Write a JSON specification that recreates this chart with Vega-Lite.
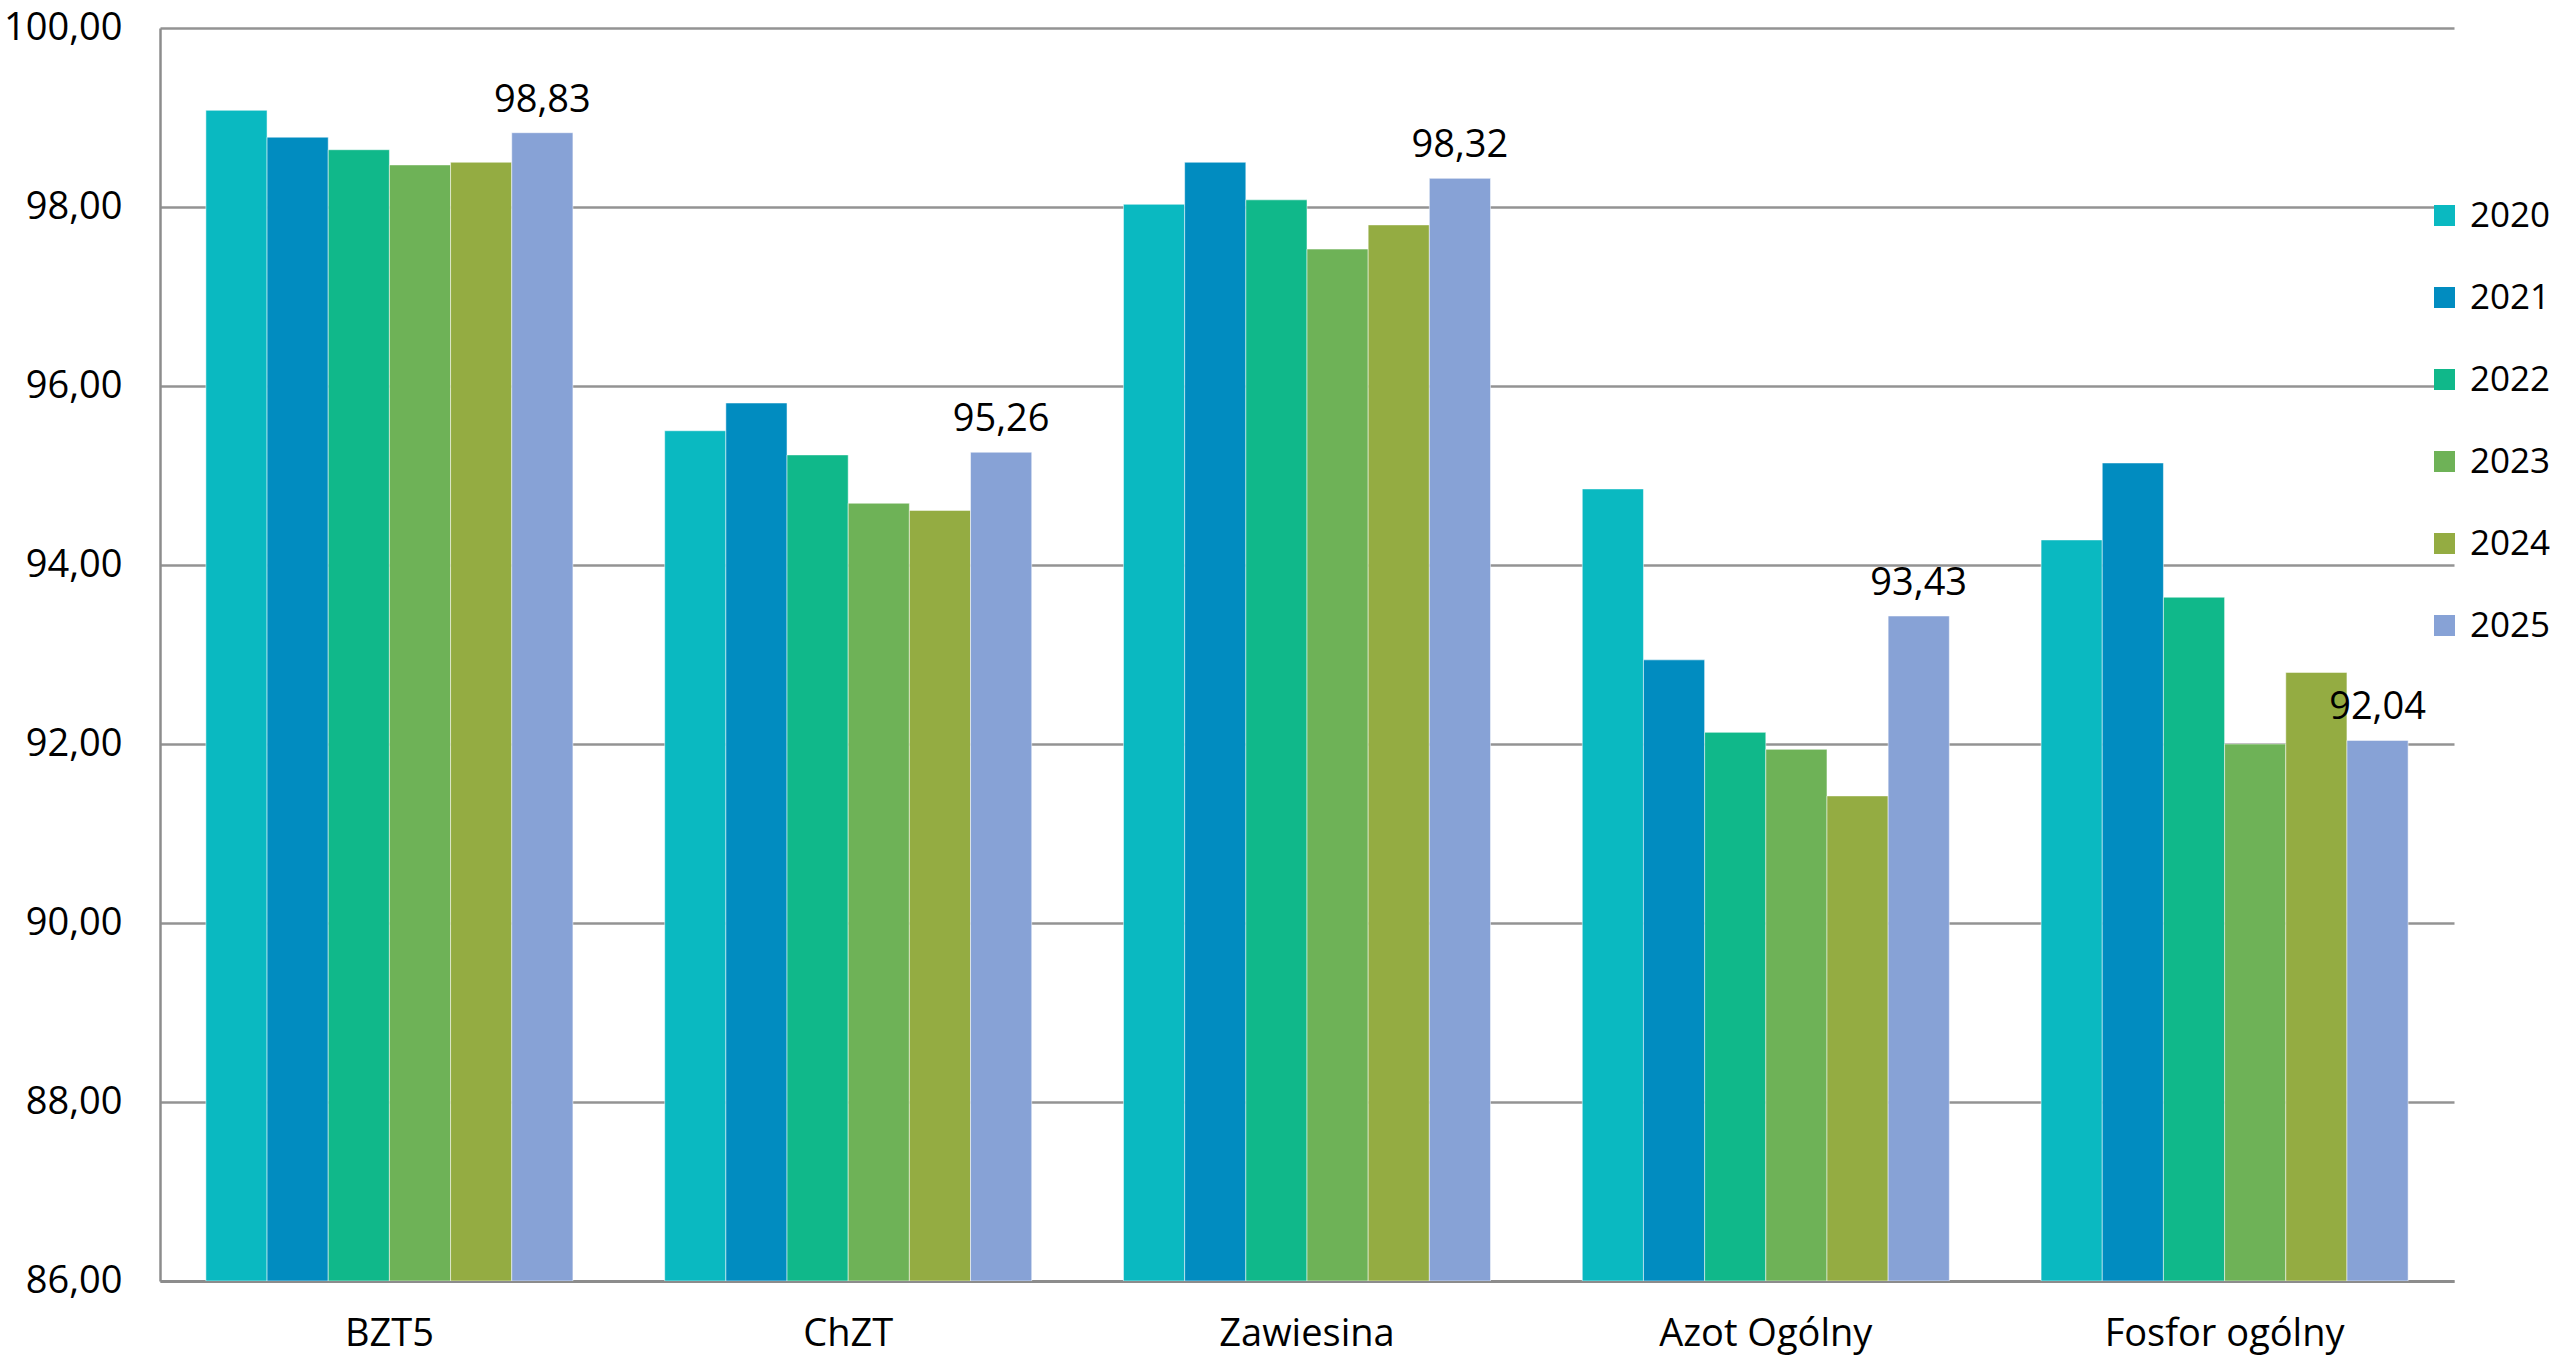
{
  "$schema": "https://vega.github.io/schema/vega-lite/v6.json",
  "autosize": {"type": "none"},
  "width": 2294,
  "height": 1253,
  "padding": {"left": 160, "top": 28, "right": 106, "bottom": 78},
  "background": "#ffffff",
  "data": {
    "values": [
      {"kategoria": "BZT5", "rok": "2020", "wartosc": 99.08},
      {"kategoria": "BZT5", "rok": "2021", "wartosc": 98.78},
      {"kategoria": "BZT5", "rok": "2022", "wartosc": 98.64},
      {"kategoria": "BZT5", "rok": "2023", "wartosc": 98.47},
      {"kategoria": "BZT5", "rok": "2024", "wartosc": 98.50},
      {"kategoria": "BZT5", "rok": "2025", "wartosc": 98.83},
      {"kategoria": "ChZT", "rok": "2020", "wartosc": 95.50},
      {"kategoria": "ChZT", "rok": "2021", "wartosc": 95.81},
      {"kategoria": "ChZT", "rok": "2022", "wartosc": 95.23},
      {"kategoria": "ChZT", "rok": "2023", "wartosc": 94.69},
      {"kategoria": "ChZT", "rok": "2024", "wartosc": 94.61},
      {"kategoria": "ChZT", "rok": "2025", "wartosc": 95.26},
      {"kategoria": "Zawiesina", "rok": "2020", "wartosc": 98.03},
      {"kategoria": "Zawiesina", "rok": "2021", "wartosc": 98.50},
      {"kategoria": "Zawiesina", "rok": "2022", "wartosc": 98.08},
      {"kategoria": "Zawiesina", "rok": "2023", "wartosc": 97.53},
      {"kategoria": "Zawiesina", "rok": "2024", "wartosc": 97.80},
      {"kategoria": "Zawiesina", "rok": "2025", "wartosc": 98.32},
      {"kategoria": "Azot Ogólny", "rok": "2020", "wartosc": 94.85},
      {"kategoria": "Azot Ogólny", "rok": "2021", "wartosc": 92.94},
      {"kategoria": "Azot Ogólny", "rok": "2022", "wartosc": 92.13},
      {"kategoria": "Azot Ogólny", "rok": "2023", "wartosc": 91.94},
      {"kategoria": "Azot Ogólny", "rok": "2024", "wartosc": 91.42},
      {"kategoria": "Azot Ogólny", "rok": "2025", "wartosc": 93.43},
      {"kategoria": "Fosfor ogólny", "rok": "2020", "wartosc": 94.28},
      {"kategoria": "Fosfor ogólny", "rok": "2021", "wartosc": 95.14},
      {"kategoria": "Fosfor ogólny", "rok": "2022", "wartosc": 93.64},
      {"kategoria": "Fosfor ogólny", "rok": "2023", "wartosc": 92.00},
      {"kategoria": "Fosfor ogólny", "rok": "2024", "wartosc": 92.80},
      {"kategoria": "Fosfor ogólny", "rok": "2025", "wartosc": 92.04}
    ]
  },
  "encoding": {
    "x": {
      "field": "kategoria",
      "type": "nominal",
      "sort": ["BZT5", "ChZT", "Zawiesina", "Azot Ogólny", "Fosfor ogólny"],
      "scale": {"paddingInner": 0.2, "paddingOuter": 0.1},
      "axis": {
        "title": null,
        "labelAngle": 0,
        "labelFont": "Open Sans",
        "labelFontSize": 38,
        "labelColor": "#000000",
        "labelPadding": 34,
        "labelLimit": 0,
        "ticks": false,
        "domainColor": "#8c8c8c",
        "domainWidth": 3,
        "grid": false
      }
    },
    "xOffset": {
      "field": "rok",
      "type": "nominal",
      "scale": {"paddingInner": 0, "paddingOuter": 0}
    },
    "y": {
      "field": "wartosc",
      "type": "quantitative",
      "scale": {"domain": [86, 100], "nice": false, "zero": false},
      "axis": {
        "title": null,
        "values": [86, 88, 90, 92, 94, 96, 98, 100],
        "labelExpr": "replace(format(datum.value, '.2f'), '.', ',')",
        "labelFont": "Open Sans",
        "labelFontSize": 38,
        "labelColor": "#000000",
        "labelPadding": 38,
        "ticks": false,
        "domainColor": "#8c8c8c",
        "domainWidth": 2.5,
        "gridColor": "#939393",
        "gridWidth": 2.5
      }
    }
  },
  "layer": [
    {
      "mark": {"type": "bar", "stroke": "#ffffff", "strokeWidth": 1, "strokeOpacity": 0.5, "clip": true},
      "encoding": {
        "y2": {"datum": 86},
        "color": {
          "field": "rok",
          "type": "nominal",
          "scale": {
            "domain": ["2020", "2021", "2022", "2023", "2024", "2025"],
            "range": ["#0AB9C1", "#018CC0", "#10B88A", "#6EB257", "#94AC42", "#87A2D6"]
          },
          "legend": {
            "title": null,
            "orient": "none",
            "legendX": 2267,
            "legendY": 170,
            "padding": 0,
            "symbolType": "square",
            "symbolSize": 441,
            "symbolStrokeWidth": 0,
            "labelFont": "Open Sans",
            "labelFontSize": 35,
            "labelColor": "#000000",
            "labelOffset": 8,
            "rowPadding": 46
          }
        }
      }
    },
    {
      "transform": [
        {"filter": "datum.rok === '2025'"},
        {"calculate": "replace(format(datum.wartosc, '.2f'), '.', ',')", "as": "etykieta"}
      ],
      "mark": {
        "type": "text",
        "font": "Open Sans",
        "fontSize": 38,
        "color": "#000000",
        "baseline": "alphabetic",
        "align": "center",
        "dy": -21
      },
      "encoding": {
        "text": {"field": "etykieta"}
      }
    }
  ],
  "config": {
    "view": {"stroke": null},
    "axis": {"labelFont": "Open Sans"}
  }
}
